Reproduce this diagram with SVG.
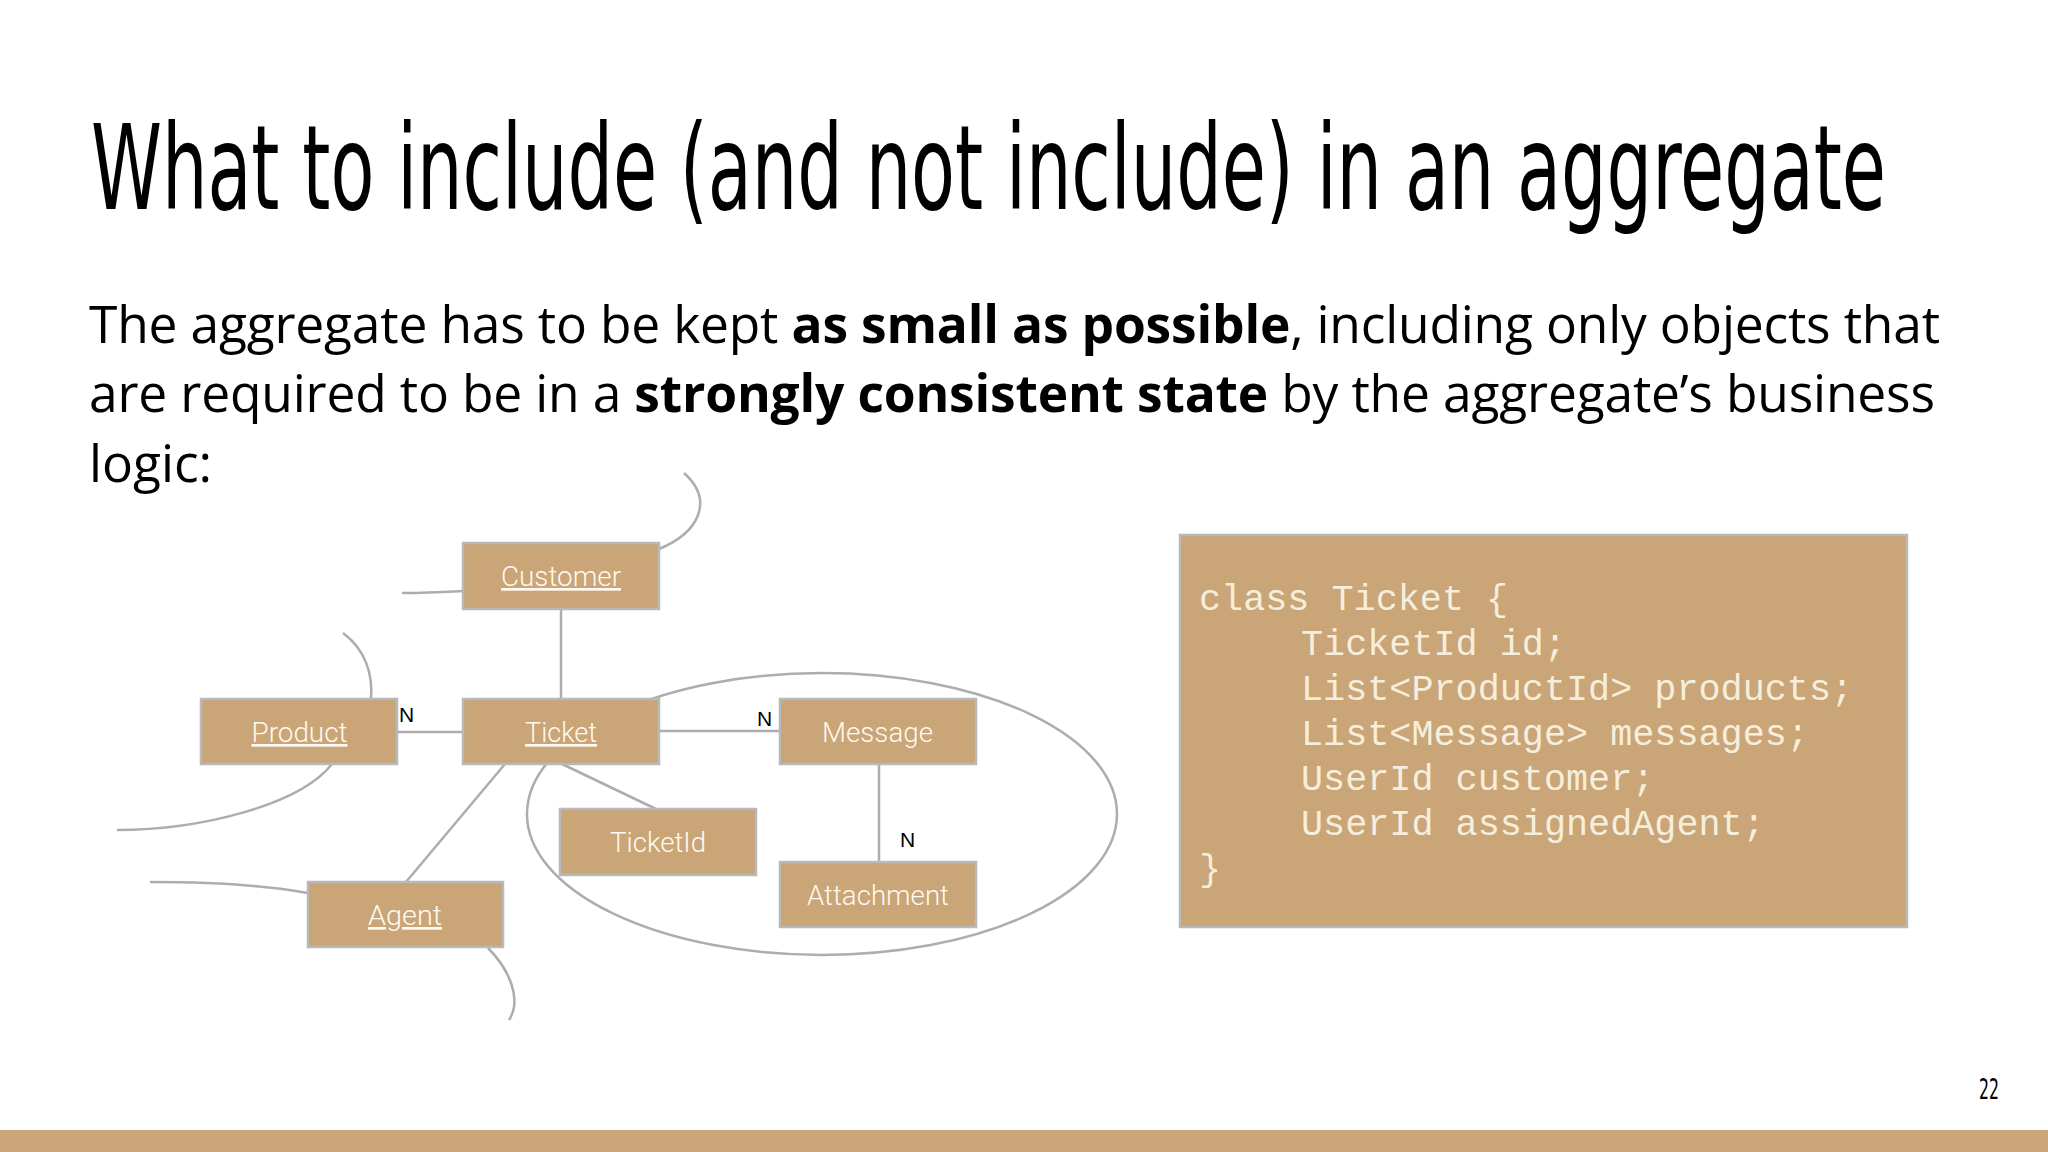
<svg xmlns="http://www.w3.org/2000/svg" width="2048" height="1152" viewBox="0 0 2048 1152">
<style>
.node rect { fill:#C9A577; stroke:#B9B9B9; stroke-width:2.5; }
.lbl { font-family:Roboto, "Liberation Sans", sans-serif; font-weight:300; font-size:27px; fill:#FFF9EF; }
.u { text-decoration:underline; }
.conn path, .conn line, .conn ellipse { stroke:#ADADAD; stroke-width:2.5; fill:none; }
.card { font-family:"Liberation Sans", Arial, sans-serif; font-size:21px; fill:#000; }
.code { font-family:"Liberation Mono", "Courier New", monospace; font-size:36.8px; fill:#F6EEDD; }
.title { font-family:"DejaVu Sans", sans-serif; fill:#000; }
.body { font-family:"Open Sans", "Liberation Sans", sans-serif; font-size:51.5px; fill:#000; }
</style>
<rect x="0" y="0" width="2048" height="1152" fill="#FFFFFF"/>
<text class="title" x="91" y="209" font-size="118" textLength="1795" lengthAdjust="spacingAndGlyphs">What to include (and not include) in an aggregate</text>
<text class="body" x="89" y="343" textLength="1851" lengthAdjust="spacing">The aggregate has to be kept <tspan font-weight="700">as small as possible</tspan>, including only objects that</text>
<text class="body" x="89" y="412" textLength="1846" lengthAdjust="spacing">are required to be in a <tspan font-weight="700">strongly consistent state</tspan> by the aggregate’s business</text>
<text class="body" x="89" y="482">logic:</text>

<g id="connectors" class="conn">
  <ellipse cx="822" cy="814" rx="295" ry="141"/>
  <line x1="561" y1="609" x2="561" y2="699"/>
  <line x1="397" y1="732" x2="463" y2="732"/>
  <line x1="659" y1="731" x2="780" y2="731"/>
  <line x1="879" y1="764" x2="879" y2="862"/>
  <line x1="505" y1="764" x2="406" y2="882"/>
  <line x1="562" y1="764" x2="656" y2="809"/>
  <path d="M659 549 C700 532 714 500 684 473"/>
  <path d="M402 593 C430 593 445 592 463 591"/>
  <path d="M371 699 C373 675 366 650 343 633"/>
  <path d="M332 764 C300 805 200 830 117 830"/>
  <path d="M150 882 C220 882 270 886 308 893"/>
  <path d="M488 948 C510 970 522 1000 509 1020"/>
</g>

<g id="node-customer" class="node"><rect x="463" y="543" width="196" height="66"/><text class="lbl u" x="501" y="586" textLength="120" lengthAdjust="spacingAndGlyphs">Customer</text></g>
<g id="node-product" class="node"><rect x="201" y="699" width="196" height="65"/><text class="lbl u" x="251.5" y="742" textLength="96" lengthAdjust="spacingAndGlyphs">Product</text></g>
<g id="node-ticket" class="node"><rect x="463" y="699" width="196" height="65"/><text class="lbl u" x="525" y="742" textLength="72" lengthAdjust="spacingAndGlyphs">Ticket</text></g>
<g id="node-message" class="node"><rect x="780" y="699" width="196" height="65"/><text class="lbl" x="822" y="742" textLength="111" lengthAdjust="spacingAndGlyphs">Message</text></g>
<g id="node-ticketid" class="node"><rect x="560" y="809" width="196" height="66"/><text class="lbl" x="610" y="852" textLength="96" lengthAdjust="spacingAndGlyphs">TicketId</text></g>
<g id="node-attachment" class="node"><rect x="780" y="862" width="196" height="65"/><text class="lbl" x="807" y="905" textLength="142" lengthAdjust="spacingAndGlyphs">Attachment</text></g>
<g id="node-agent" class="node"><rect x="308" y="882" width="195" height="65"/><text class="lbl u" x="368" y="925" textLength="74" lengthAdjust="spacingAndGlyphs">Agent</text></g>

<g id="labels">
  <text class="card" x="399" y="722">N</text>
  <text class="card" x="757" y="726">N</text>
  <text class="card" x="900" y="847">N</text>
</g>

<g id="code-box" class="node">
  <rect x="1180" y="535" width="727" height="392"/>
  <text class="code" x="1199" y="610">class Ticket {</text>
  <text class="code" x="1301" y="655">TicketId id;</text>
  <text class="code" x="1301" y="700">List&lt;ProductId&gt; products;</text>
  <text class="code" x="1301" y="745">List&lt;Message&gt; messages;</text>
  <text class="code" x="1301" y="790">UserId customer;</text>
  <text class="code" x="1301" y="835">UserId assignedAgent;</text>
  <text class="code" x="1199" y="880">}</text>
</g>

<text class="title" x="1979" y="1099" font-size="29" textLength="20" lengthAdjust="spacingAndGlyphs">22</text>
<rect x="0" y="1130" width="2048" height="22" fill="#CBA678"/>
</svg>
